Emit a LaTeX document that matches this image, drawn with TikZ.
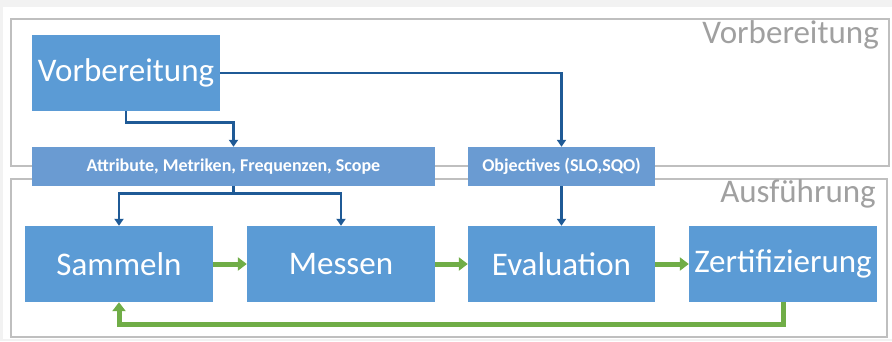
\documentclass[tikz,border=0pt]{standalone}
\usepackage{fontspec}
\setmainfont{Carlito}
\usetikzlibrary{arrows.meta}
\definecolor{boxblue}{HTML}{5B9BD5}
\definecolor{barblue}{HTML}{6A9BD2}
\definecolor{lineblue}{HTML}{1F5A96}
\definecolor{arrgreen}{HTML}{70AD47}
\definecolor{framegray}{HTML}{BFBFBF}
\definecolor{labelgray}{HTML}{A0A0A0}
\definecolor{bggray}{HTML}{F2F2F2}
\tikzset{
  bigbox/.style={fill=boxblue, draw=none, text=white, minimum width=188pt, minimum height=76pt, inner sep=0pt, font=\fontsize{33}{33}\selectfont},
  barbox/.style={fill=barblue, draw=none, text=white, minimum height=39pt, inner sep=0pt, font=\fontsize{18}{18}\selectfont\bfseries},
  frame/.style={draw=framegray, line width=2.2pt},
  phase/.style={text=labelgray, inner sep=0pt, font=\fontsize{33}{33}\selectfont},
  bl/.style={draw=lineblue, line width=2.8pt, -{Triangle[length=7pt,width=9pt]}},
  gr/.style={draw=arrgreen, line width=5pt, -{Triangle[length=9pt,width=13pt]}},
}
\begin{document}
\begin{tikzpicture}[x=1pt,y=-1pt]
\useasboundingbox (0,0) rectangle (892,341);
\fill[bggray] (0,0) rectangle (892,341);
\fill[white] (3,7) rectangle (892,339);
\draw[frame] (11,19) rectangle (889,166);
\draw[frame] (11,179) rectangle (887,337);
\node[phase, anchor=base east] (lv) at (879,43) {Vorbereitung};
\node[phase, anchor=base east] (la) at (876,202) {Ausführung};
\node[bigbox] (vor) at (126,73) {Vorbereitung};
\node[barbox, minimum width=403pt] (attr) at (233.5,166.5) {Attribute, Metriken, Frequenzen, Scope};
\node[barbox, minimum width=187pt] (obj) at (561.5,166.5) {Objectives (SLO,SQO)};
\node[bigbox] (sam) at (119,264) {Sammeln};
\node[bigbox] (mes) at (341,264) {Messen};
\node[bigbox, minimum width=187pt] (eva) at (561.5,264) {Evaluation};
\node[bigbox] (zer) at (783,264) {Zertifizierung};
\draw[bl] (vor.east) -| (obj.north);
\draw[bl] (vor.south) -- ++(0,11) -| (attr.north);
\coordinate (split) at ([yshift=-7pt]attr.south);
\draw[draw=lineblue, line width=2.8pt] (attr.south) -- (split);
\draw[bl] (split) -| (sam.north);
\draw[bl] (split) -| (mes.north);
\draw[bl] (obj.south) -- (eva.north);
\draw[gr] (sam) -- (mes);
\draw[gr] (mes) -- (eva);
\draw[gr] (eva) -- (zer);
\draw[gr] (zer.south) -- ++(0,22) -| (sam.south);
\end{tikzpicture}
\end{document}
